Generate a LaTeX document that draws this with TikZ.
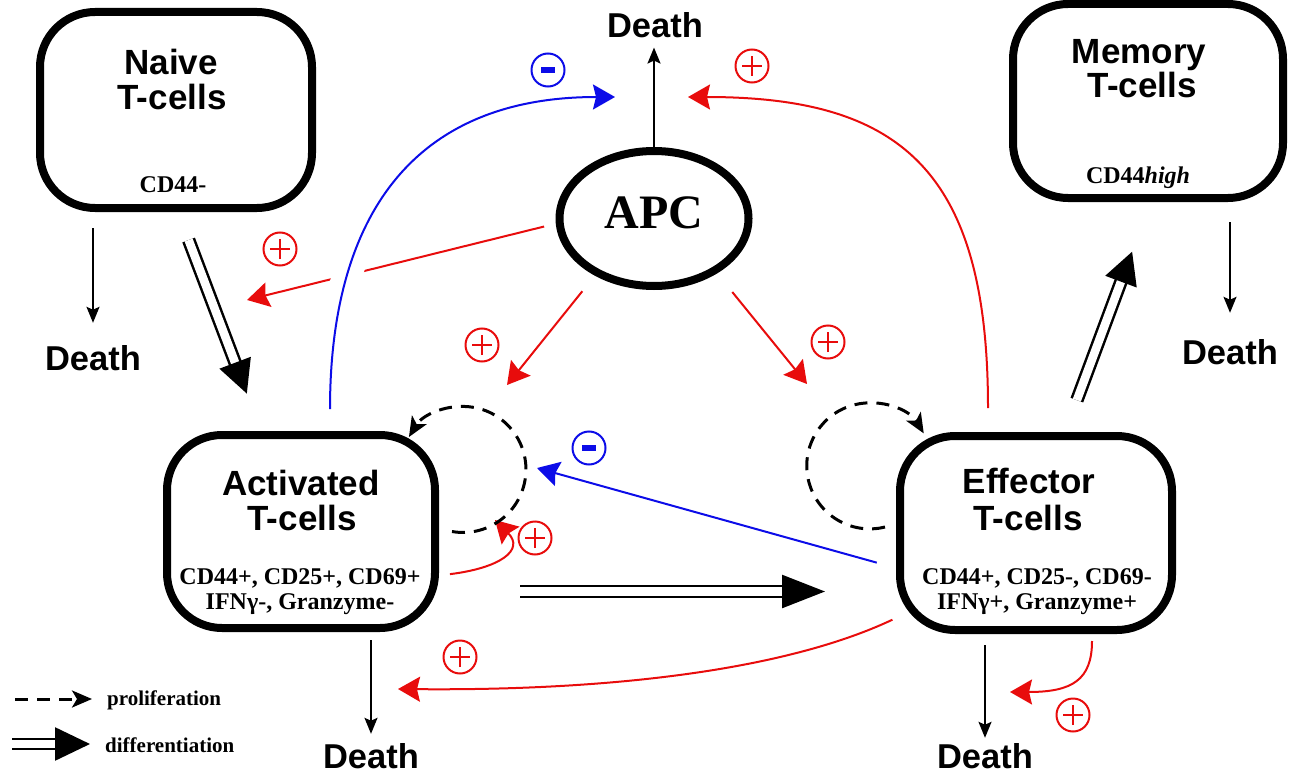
\documentclass[tikz,border=0pt]{standalone}
\usepackage{fontspec}
\setmainfont{Liberation Serif}
\newfontfamily\arialf{Liberation Sans}
\usetikzlibrary{arrows.meta,shapes.geometric}
\definecolor{pred}{RGB}{232,12,12}
\definecolor{pblue}{RGB}{12,12,232}
\begin{document}
\begin{tikzpicture}[x=1pt,y=-1pt,
  cellbox/.style={draw, line width=8pt, rounded corners=55pt, inner sep=0pt},
  ttl/.style={font=\arialf\bfseries\fontsize{35}{35}\selectfont, inner sep=0pt, anchor=base},
  dth/.style={font=\arialf\bfseries\fontsize{34.5}{35}\selectfont, inner sep=0pt, anchor=base},
  mrk/.style={font=\bfseries\fontsize{24}{25}\selectfont, inner sep=0pt, anchor=base},
  leg/.style={font=\bfseries\fontsize{21}{22}\selectfont, inner sep=0pt, anchor=base west},
  redarr/.style={draw=pred, line width=2pt, -{Stealth[length=22pt,width=25pt,inset=3pt]}},
  bluearr/.style={draw=pblue, line width=2pt, -{Stealth[length=22pt,width=25pt,inset=3pt]}},
  blackarr/.style={draw=black, line width=2pt, -{Stealth[length=16pt,width=13pt,inset=3pt]}},
  dasharr/.style={line width=3pt, dash pattern=on 13pt off 9pt, -{Stealth[length=20pt,width=17pt,inset=5pt]}},
  diff/.style={double=white, double distance=8.5pt, line width=2.5pt, -{Triangle[length=#1,width=33pt]}},
  diff/.default=38pt,
  plusn/.style={circle, draw=pred, line width=2pt, minimum size=33pt, inner sep=0pt,
    path picture={\draw[pred, line width=2pt] ([xshift=-10pt]path picture bounding box.center) -- ([xshift=10pt]path picture bounding box.center) ([yshift=-10pt]path picture bounding box.center) -- ([yshift=10pt]path picture bounding box.center);}},
  minusn/.style={circle, draw=pblue, line width=2pt, minimum size=33pt, inner sep=0pt,
    path picture={\fill[pblue] ([xshift=-7pt,yshift=-3pt]path picture bounding box.center) rectangle ([xshift=7pt,yshift=3pt]path picture bounding box.center);}}
]
\useasboundingbox (0,0) rectangle (1290,773);

% cell boxes
\node[cellbox, minimum width=272pt, minimum height=196pt] (naive) at (176,110) {};
\node[cellbox, minimum width=270pt, minimum height=194pt] (memory) at (1148,101) {};
\node[cellbox, minimum width=268pt, minimum height=193pt] (act) at (301,531.5) {};
\node[cellbox, minimum width=272pt, minimum height=194pt] (eff) at (1036,533) {};
\node[ellipse, draw, line width=8pt, minimum width=189pt, minimum height=135pt, inner sep=0pt] (apc) at (654,218.5) {};

% texts
\node[ttl] (naiveA) at (171,75) {Naive};
\node[ttl] (naiveB) at (172,110) {T-cells};
\node[mrk] (naiveC) at (173,192) {CD44-};
\node[ttl] (memA) at (1139,64) {Memory};
\node[ttl] (memB) at (1142,98) {T-cells};
\node[mrk] (memC) at (1138,183) {CD44\textit{high}};
\node[ttl] (actA) at (301,495) {Activated};
\node[ttl] (actB) at (302,530) {T-cells};
\node[mrk] (actC) at (300,584) {CD44+, CD25+, CD69+};
\node[mrk] (actD) at (300,609) {IFNγ-, Granzyme-};
\node[ttl] (effA) at (1029,493) {Effector};
\node[ttl] (effB) at (1028,530) {T-cells};
\node[mrk] (effC) at (1037,584) {CD44+, CD25-, CD69-};
\node[mrk] (effD) at (1037,609) {IFNγ+, Granzyme+};
\node[font=\bfseries\fontsize{48}{48}\selectfont, inner sep=0pt, anchor=base] (apcT) at (654,228) {APC};

% death labels
\node[dth] (d0) at (655,38) {Death};
\node[dth] (d1) at (93,370) {Death};
\node[dth] (d2) at (1230,364) {Death};
\node[dth] (d3) at (371,768) {Death};
\node[dth] (d4) at (985,768) {Death};

% death arrows
\draw[blackarr, shorten >=9pt] (apc.north) -- (apc.north |- d0.south);
\draw[blackarr, shorten <=16pt, shorten >=22pt] (naive.south -| d1.north) -- (d1.north);
\draw[blackarr, shorten <=20pt, shorten >=26pt] (memory.south -| d2.north) -- (d2.north);
\draw[blackarr, shorten <=8pt, shorten >=9pt] (act.south -| d3.north) -- (d3.north);
\draw[blackarr, shorten <=11pt, shorten >=5pt] (eff.south -| d4.north) -- (d4.north);

% free ends
\coordinate (tipL) at (247,300);
\coordinate (tipAL) at (507,385);
\coordinate (tipAR) at (807,384);
\coordinate (tipTR) at (688,97);
\coordinate (tipTL) at (615,97);
\coordinate (tipB2) at (537,468);
\coordinate (tipP5) at (495,520);
\coordinate (tipBL) at (398,689);
\coordinate (tipER) at (1010,692);

% red influences
\draw[redarr, shorten <=12pt] (apc.183) -- (tipL);
\draw[redarr, shorten <=20pt] (apc.224) -- (tipAL);
\draw[redarr, shorten <=24pt] (apc.-41) -- (tipAR);
\draw[redarr, shorten <=24pt] ([xshift=-48pt]eff.north) .. controls (988,170) and (900,97) .. (tipTR);
\draw[redarr, shorten <=11pt] ([yshift=-44pt]act.east) .. controls (500,568) and (525,550) .. (tipP5);
\draw[redarr, shorten <=4pt] ([yshift=-85pt]eff.west) .. controls (790,668) and (620,691) .. (tipBL);
\draw[redarr, shorten <=7pt] ([xshift=56pt]eff.south) .. controls (1092,680) and (1072,692) .. (tipER);

% blue influences
\draw[bluearr, shorten <=22pt, preaction={draw=white, line width=30pt, -}] ([xshift=29pt]act.north) .. controls (330,220) and (410,97) .. (tipTL);
\draw[bluearr, shorten <=20pt] ([yshift=-35pt]eff.west) -- (tipB2);

% proliferation loops
\draw[dasharr] ([xshift=13pt]act.east) arc[start angle=100, end angle=-149, radius=63];
\draw[dasharr] ([xshift=-11pt,yshift=6pt]eff.west) arc[start angle=76, end angle=329, radius=63];

% differentiation
\draw[diff=33pt, shorten <=30pt, shorten >=40pt] ([xshift=2pt]naive.south) -- ([xshift=-40pt]act.north);
\draw[diff=32pt, shorten <=34pt, shorten >=53pt] ([xshift=29pt]eff.north) -- ([xshift=2.6pt]memory.south);
\draw[diff=43pt, shorten <=81pt, shorten >=71pt] ([yshift=-60pt]act.east) -- ([yshift=-58.5pt]eff.west);

% signs
\node[plusn] (p1) at (752,66) {};
\node[plusn] (p2) at (280,249) {};
\node[plusn] (p3) at (482,345) {};
\node[plusn] (p4) at (828,342) {};
\node[plusn] (p5) at (535,538) {};
\node[plusn] (p6) at (460,657) {};
\node[plusn] (p7) at (1073,715) {};
\node[minusn] (m1) at (548,70) {};
\node[minusn] (m2) at (589,448) {};

% legend
\coordinate (lp1) at (15,699);
\coordinate (lp2) at (92,699);
\draw[dasharr] (lp1) -- (lp2);
\node[leg] (lpT) at (107,705) {proliferation};
\coordinate (ld1) at (12,744);
\coordinate (ld2) at (90,744);
\draw[diff=35pt, double distance=7.5pt] (ld1) -- (ld2);
\node[leg] (ldT) at (105,752) {differentiation};
\end{tikzpicture}
\end{document}
